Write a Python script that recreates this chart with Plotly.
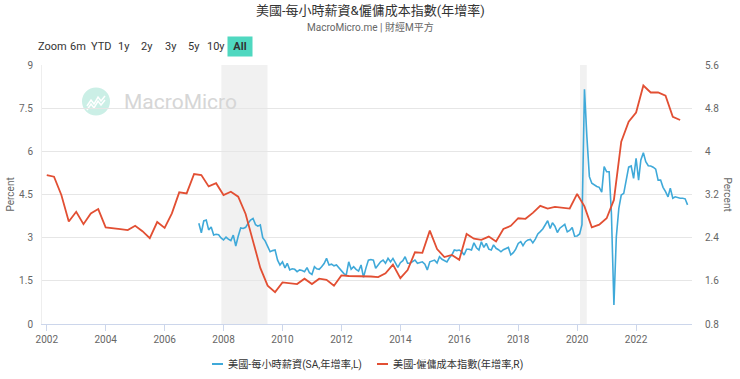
import pandas as pd
import plotly.graph_objects as go

# ---------------- data ----------------
# Average hourly earnings, YoY %, monthly from 2007-03 to 2023-10 (left axis)
ahe_start = "2007-03-01"
ahe_values = [
    # 2007 (Mar-Dec)
    3.50, 3.17, 3.58, 3.61, 3.27, 3.37, 3.09, 3.12, 3.10, 2.99,
    # 2008
    2.92, 3.02, 2.95, 2.90, 3.09, 2.71, 3.05, 3.34, 3.32, 3.36, 3.50, 3.61,
    # 2009
    3.67, 3.45, 3.40, 3.44, 3.00, 2.88, 2.70, 2.51, 2.55, 2.57, 2.22, 2.05,
    # 2010
    2.16, 1.95, 2.11, 1.88, 1.92, 1.90, 1.82, 1.88, 1.86, 1.82, 1.96, 1.78,
    # 2011
    1.72, 1.99, 1.92, 1.90, 1.99, 2.10, 2.28, 2.05, 2.08, 2.02, 2.05, 1.95,
    # 2012
    1.82, 1.75, 1.70, 2.16, 1.90, 1.99, 1.90, 1.84, 2.05, 1.62, 1.95, 2.22,
    # 2013
    2.24, 2.22, 1.94, 2.05, 2.16, 2.22, 2.11, 2.28, 2.16, 2.28, 2.10, 1.97,
    # 2014
    2.13, 2.20, 2.34, 2.11, 2.11, 2.18, 2.22, 2.11, 2.14, 2.16, 2.08, 1.88,
    # 2015
    2.16, 2.18, 2.22, 2.12, 2.34, 2.25, 2.20, 2.16, 2.30, 2.40, 2.57, 2.55,
    # 2016
    2.57, 2.52, 2.40, 2.60, 2.60, 2.57, 2.82, 2.65, 2.57, 2.86, 2.66, 2.80,
    # 2017
    2.60, 2.57, 2.75, 2.63, 2.58, 2.51, 2.58, 2.62, 2.66, 2.40, 2.48, 2.60,
    # 2018
    2.80, 2.86, 2.72, 2.86, 2.92, 2.94, 2.82, 2.95, 3.13, 3.21, 3.30, 3.44,
    # 2019
    3.59, 3.32, 3.52, 3.40, 3.18, 3.33, 3.40, 3.46, 3.20, 3.25, 3.35, 3.05,
    # 2020
    3.06, 3.13, 3.45, 8.16, 6.51, 5.12, 4.89, 4.82, 4.78, 4.75, 4.58, 5.47,
    # 2021
    5.29, 5.29, 3.85, 0.66, 3.03, 4.02, 4.48, 4.54, 5.03, 5.45, 5.49, 5.06,
    # 2022
    5.76, 5.00, 5.70, 5.95, 5.64, 5.50, 5.49, 5.45, 5.38, 5.00, 5.00, 4.75,
    # 2023 (Jan-Oct)
    4.60, 4.42, 4.72, 4.37, 4.42, 4.39, 4.37, 4.37, 4.35, 4.14,
]
ahe_dates = pd.date_range(ahe_start, periods=len(ahe_values), freq="MS")

# Employment cost index, YoY %, quarterly from 2002-Q1 to 2023-Q3 (right axis)
eci_start = "2002-01-01"
eci_values = [
    3.56, 3.53, 3.19, 2.70, 2.88, 2.65, 2.85, 2.93,   # 2002-2003
    2.59, 2.58, 2.56, 2.54, 2.62, 2.52, 2.39, 2.69,   # 2004-2005
    2.58, 2.85, 3.24, 3.22, 3.58, 3.56, 3.35, 3.41,   # 2006-2007
    3.19, 3.25, 3.16, 2.84, 2.34, 1.84, 1.51, 1.39,   # 2008-2009
    1.57, 1.56, 1.54, 1.64, 1.54, 1.64, 1.62, 1.51,   # 2010-2011
    1.70, 1.69, 1.69, 1.68, 1.68, 1.67, 1.74, 1.90,   # 2012-2013
    1.65, 1.80, 2.13, 2.12, 2.53, 2.19, 2.04, 2.08,   # 2014-2015
    1.99, 2.47, 2.38, 2.36, 2.42, 2.33, 2.56, 2.62,   # 2016-2017
    2.76, 2.75, 2.86, 2.99, 2.94, 2.97, 2.96, 2.94,   # 2018-2019
    3.21, 2.98, 2.59, 2.64, 2.76, 3.10, 4.18, 4.55,   # 2020-2021
    4.72, 5.22, 5.09, 5.09, 5.03, 4.64, 4.58,         # 2022-2023
]
eci_dates = pd.date_range(eci_start, periods=len(eci_values), freq="QS")

# recession periods (shaded)
recessions = [("2007-12-05", "2009-06-30"), ("2020-02-05", "2020-04-30")]

left_ticks = [0, 1.5, 3, 4.5, 6, 7.5, 9]
right_ticks = [0.8, 1.6, 2.4, 3.2, 4, 4.8, 5.6]
range_buttons = ["6m", "YTD", "1y", "2y", "3y", "5y", "10y", "All"]

TITLE = "美國-每小時薪資&僱傭成本指數(年增率)"
SUBTITLE = "MacroMicro.me | 財經M平方"
NAME_L = "美國-每小時薪資(SA,年增率,L)"
NAME_R = "美國-僱傭成本指數(年增率,R)"

# ---------------- styling ----------------
BLUE = "#3fa9d9"
RED = "#e24f33"
FONT = "Roboto, 'Noto Sans CJK TC', sans-serif"
W, H = 740, 379
PL, PR, PT, PB = 42, 692, 65, 324  # plot area in pixels


def px_x(px):
    return (px - PL) / (PR - PL)


def px_y(py):
    return (PB - py) / (PB - PT)


fig = go.Figure()
fig.add_trace(go.Scatter(x=ahe_dates, y=ahe_values, name=NAME_L, mode="lines",
                         line=dict(color=BLUE, width=1.6), yaxis="y"))
fig.add_trace(go.Scatter(x=eci_dates, y=eci_values, name=NAME_R, mode="lines",
                         line=dict(color=RED, width=1.8), yaxis="y2"))

shapes = []
for a, b in recessions:
    shapes.append(dict(type="rect", xref="x", yref="paper", x0=a, x1=b, y0=0, y1=1,
                       fillcolor="rgba(0,0,0,0.055)", line=dict(width=0), layer="below"))

# watermark logo
shapes.append(dict(type="circle", xref="paper", yref="paper",
                   x0=px_x(82), x1=px_x(110), y0=px_y(115.5), y1=px_y(87.5),
                   fillcolor="#cbefe6", line=dict(width=0), layer="below"))
zig = [(87, 106), (91, 100), (94, 104), (98, 97), (101, 101), (105, 96)]
path = "M " + " L ".join(f"{px_x(a):.4f},{px_y(b):.4f}" for a, b in zig)
shapes.append(dict(type="path", xref="paper", yref="paper", path=path,
                   line=dict(color="white", width=1.5), layer="below"))
zig2 = [(87, 110), (91, 104), (94, 108), (98, 101), (101, 105), (105, 100)]
path2 = "M " + " L ".join(f"{px_x(a):.4f},{px_y(b):.4f}" for a, b in zig2)
shapes.append(dict(type="path", xref="paper", yref="paper", path=path2,
                   line=dict(color="white", width=1.5), layer="below"))

annotations = [
    dict(text=TITLE, x=px_x(370), y=px_y(11), xref="paper", yref="paper",
         showarrow=False, font=dict(size=13, color="#333333", family=FONT),
         xanchor="center", yanchor="middle"),
    dict(text=SUBTITLE, x=px_x(370), y=px_y(27), xref="paper", yref="paper",
         showarrow=False, font=dict(size=10, color="#666666", family=FONT),
         xanchor="center", yanchor="middle"),
    dict(text="MacroMicro", x=px_x(122), y=px_y(102), xref="paper", yref="paper",
         showarrow=False, font=dict(size=21, color="#d6d6d6", family=FONT),
         xanchor="left", yanchor="middle"),
    dict(text="Percent", x=px_x(10), y=0.5, xref="paper", yref="paper", textangle=-90,
         showarrow=False, font=dict(size=10, color="#666666", family=FONT),
         xanchor="center", yanchor="middle"),
    dict(text="Percent", x=px_x(727), y=0.5, xref="paper", yref="paper", textangle=90,
         showarrow=False, font=dict(size=10, color="#666666", family=FONT),
         xanchor="center", yanchor="middle"),
    dict(text="Zoom", x=px_x(52), y=px_y(47), xref="paper", yref="paper",
         showarrow=False, font=dict(size=11, color="#333333", family=FONT),
         xanchor="center", yanchor="middle"),
]
btn_x = [78, 101, 124, 147, 171, 194, 216, 240]
for lab, bx in zip(range_buttons, btn_x):
    active = lab == "All"
    annotations.append(dict(
        text=f"<b>{lab}</b>" if active else lab, x=px_x(bx), y=px_y(47),
        xref="paper", yref="paper", showarrow=False,
        font=dict(size=11, color="#333333", family=FONT),
        xanchor="center", yanchor="middle",
        bgcolor="#4fd8c0" if active else "rgba(0,0,0,0)",
        width=22 if active else None, height=17 if active else None, borderpad=1,
    ))

# compact legend (short line swatches like the original)
legend_items = [(NAME_L, BLUE, 212), (NAME_R, RED, 377)]
for name, color, lx in legend_items:
    shapes.append(dict(type="line", xref="paper", yref="paper",
                       x0=px_x(lx), x1=px_x(lx + 11), y0=px_y(364), y1=px_y(364),
                       line=dict(color=color, width=2)))
    annotations.append(dict(text=name, x=px_x(lx + 14), y=px_y(364), xref="paper",
                            yref="paper", showarrow=False, xanchor="left",
                            yanchor="middle",
                            font=dict(size=10.2, color="#333333", family=FONT)))

fig.update_layout(
    width=W, height=H,
    margin=dict(l=PL, r=W - PR, t=PT, b=H - PB, autoexpand=False),
    paper_bgcolor="white", plot_bgcolor="white",
    font=dict(family=FONT, size=10, color="#666666"),
    showlegend=False,
    xaxis=dict(type="date", range=["2001-11-03", "2023-11-25"],
               dtick="M24", tick0="2002-01-01", tickformat="%Y",
               showgrid=False, showline=True, linecolor="#ccd6eb", linewidth=1,
               ticks="outside", ticklen=6, tickcolor="#ccd6eb",
               tickfont=dict(size=10, color="#666666"), zeroline=False),
    yaxis=dict(range=[0, 9], tickvals=left_ticks, showgrid=True, gridcolor="#e6e6e6",
               showline=True, linecolor="#eeeeee", zeroline=False,
               tickfont=dict(size=10, color="#666666"), ticklabelstandoff=6),
    yaxis2=dict(range=[0.8, 5.6], tickvals=right_ticks, overlaying="y", side="right",
                showgrid=False, zeroline=False, showline=False,
                tickfont=dict(size=10, color="#666666"), ticklabelstandoff=12),
    shapes=shapes, annotations=annotations,
    hovermode="x unified",
)

fig.write_html("out.html", config={"displayModeBar": False},
               post_script="document.body.style.margin='0';document.body.style.overflow='hidden';")
